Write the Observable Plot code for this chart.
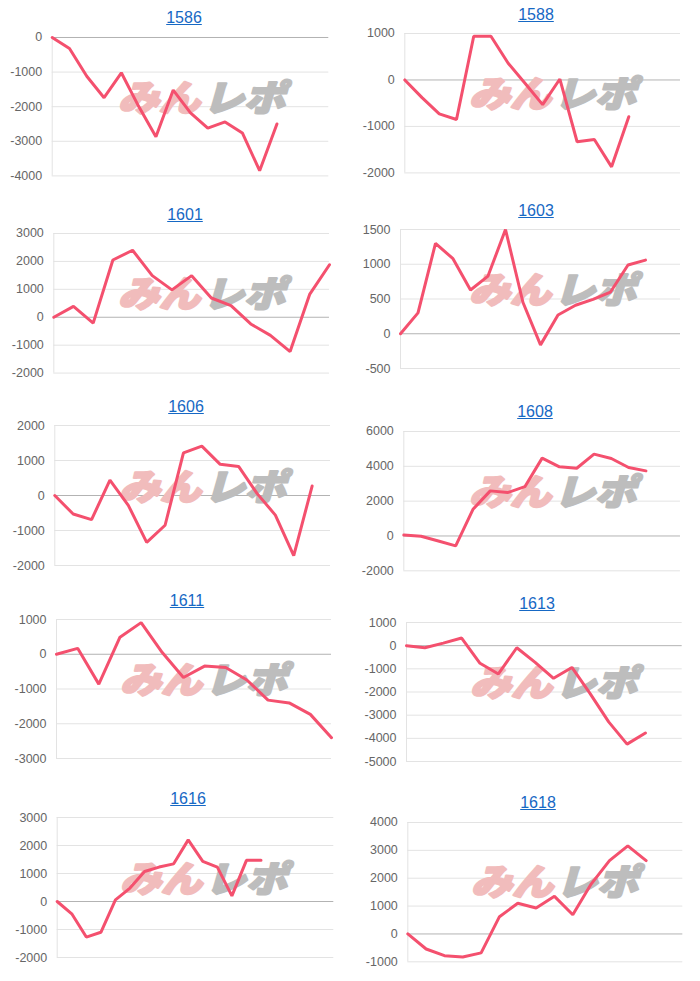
<!DOCTYPE html>
<html><head><meta charset="utf-8">
<script src="https://cdn.jsdelivr.net/npm/d3@7"></script>
<script src="https://cdn.jsdelivr.net/npm/@observablehq/plot@0.6"></script>
<style>
body{margin:0;background:#fff;}
#root{position:relative;width:700px;height:981px;overflow:hidden;}
.title{position:absolute;font:16px "Liberation Sans",Arial,sans-serif;line-height:16px;color:#1668c4;text-decoration:underline;transform:translateX(-50%);white-space:nowrap;}
.panel{position:absolute;}
</style></head><body><div id="root"></div>
<script>
// ---- data ----
const titles = ["1586","1588","1601","1603","1606","1608","1611","1613","1616","1618"];
const v1586 = [0, -320, -1120, -1740, -1020, -1990, -2870, -1520, -2180, -2620, -2440, -2760, -3850, -2500];
const v1588 = [0, -380, -730, -850, 940, 940, 360, -80, -530, 20, -1330, -1280, -1870, -790];
const v1601 = [0, 390, -210, 2050, 2400, 1490, 980, 1490, 690, 420, -240, -650, -1230, 830, 1880];
const v1603 = [0, 300, 1300, 1080, 630, 830, 1500, 450, -160, 270, 410, 495, 600, 990, 1060];
const v1606 = [0, -530, -690, 440, -280, -1340, -850, 1220, 1410, 890, 830, 60, -560, -1720, 270];
const v1608 = [50, -20, -290, -570, 1530, 2590, 2490, 2830, 4470, 3970, 3890, 4700, 4450, 3930, 3740];
const v1611 = [0, 170, -860, 490, 910, 50, -670, -340, -380, -740, -1320, -1400, -1730, -2400];
const v1613 = [0, -90, 110, 330, -760, -1220, -90, -720, -1410, -940, -2080, -3290, -4250, -3770];
const v1616 = [0, -440, -1270, -1100, 60, 480, 1070, 1230, 1345, 2200, 1430, 1230, 200, 1470, 1470];
const v1618 = [0, -540, -780, -830, -680, 620, 1100, 930, 1350, 690, 1790, 2630, 3160, 2630];
const series = [v1586, v1588, v1601, v1603, v1606, v1608, v1611, v1613, v1616, v1618];
const labelCounts = [17, 17, 15, 17, 16, 17, 14, 16, 20, 16];
const yMins  = [-4000, -2000, -2000, -500, -2000, -2000, -3000, -5000, -2000, -1000];
const yMaxs  = [0, 1000, 3000, 1500, 2000, 6000, 1000, 1000, 3000, 4000];
const ySteps = [1000, 1000, 1000, 500, 1000, 2000, 1000, 1000, 1000, 1000];
const watermarkA = "みん", watermarkB = "レポ";

// ---- layout (pixels) ----
const layout = [
 {col:0,   tx:184, tb:23,    top:37.3,  bottom:175.7, left:51.7,  right:328.3, wl:117, wt:82},
 {col:350, tx:536, tb:20.5,  top:33.3,  bottom:172.7, left:404.3, right:680,   wl:468, wt:78},
 {col:0,   tx:185, tb:220,   top:232.7, bottom:372.3, left:53.3,  right:329,   wl:117, wt:278},
 {col:350, tx:536, tb:216.7, top:229.3, bottom:368.3, left:400,   right:680,   wl:468, wt:274},
 {col:0,   tx:186, tb:412.7, top:425,   bottom:565,   left:54.3,  right:330,   wl:118, wt:471},
 {col:350, tx:535, tb:417.3, top:430.7, bottom:570,   left:403.3, right:680,   wl:468, wt:476},
 {col:0,   tx:187, tb:606.7, top:619.3, bottom:758.3, left:56,    right:331,   wl:119, wt:664},
 {col:350, tx:537, tb:609,   top:621.7, bottom:760.7, left:406,   right:681.7, wl:469, wt:667},
 {col:0,   tx:188, tb:804,   top:817.3, bottom:957.3, left:56.7,  right:333.3, wl:119, wt:863},
 {col:350, tx:538, tb:808.3, top:821.7, bottom:961,   left:407.3, right:682.3, wl:470, wt:866}
];

const root = document.getElementById("root");
const pad = 10;

series.forEach((vals, k) => {
  const L = layout[k];
  const n = labelCounts[k];
  const ticks = d3.range(yMins[k], yMaxs[k] + ySteps[k] / 2, ySteps[k]);
  const data = vals.map((v, i) => ({i, v}));
  const h = L.bottom - L.top + 2 * pad;

  const chart = Plot.plot({
    width: 350,
    height: h,
    marginTop: pad,
    marginBottom: pad,
    marginLeft: L.left - L.col,
    marginRight: L.col + 350 - L.right,
    style: {background: "transparent", fontSize: "12.5px", fontFamily: '"Liberation Sans", Arial, sans-serif', color: "#666", overflow: "visible"},
    x: {domain: [0, n - 1], axis: null},
    y: {domain: [yMins[k], yMaxs[k]], ticks, tickFormat: d => String(d), tickSize: 0, tickPadding: 10, label: null},
    marks: [
      Plot.ruleY(ticks.filter(t => t !== 0), {stroke: "#e3e3e3", strokeWidth: 1}),
      Plot.ruleX([0], {stroke: "#e3e3e3"}),
      Plot.ruleY([0], {stroke: "#b3b3b3"}),
      Plot.line(data, {x: "i", y: "v", stroke: "#f4506e", strokeWidth: 3, strokeLinejoin: "miter"})
    ]
  });

  // watermark behind the line
  const before = chart.querySelector('g[aria-label="line"]');
  const g = d3.create("svg:g").attr("font-family", '"Noto Sans CJK JP", sans-serif')
    .attr("font-weight", "900").attr("font-style", "italic").attr("font-size", 36)
    .attr("text-anchor", "start").attr("stroke-linejoin", "round");
  const bx = L.wl - L.col, by = L.wt - (L.top - pad) + 29;
  g.append("text").attr("x", bx + 1).attr("y", by).attr("fill", "#f1bcbc")
    .attr("stroke", "#f1bcbc").attr("stroke-width", 2.2)
    .attr("textLength", 82).attr("lengthAdjust", "spacingAndGlyphs").text(watermarkA);
  g.append("text").attr("x", bx + 86).attr("y", by).attr("fill", "#bdbdbd")
    .attr("stroke", "#bdbdbd").attr("stroke-width", 2.2)
    .attr("textLength", 82).attr("lengthAdjust", "spacingAndGlyphs").text(watermarkB);
  if (before) chart.insertBefore(g.node(), before); else chart.appendChild(g.node());

  const wrap = document.createElement("div");
  wrap.className = "panel";
  wrap.style.left = L.col + "px";
  wrap.style.top = (L.top - pad) + "px";
  wrap.appendChild(chart);
  root.appendChild(wrap);

  const t = document.createElement("a");
  t.className = "title";
  t.href = "#";
  t.textContent = titles[k];
  t.style.left = L.tx + "px";
  t.style.top = (L.tb - 13.5) + "px";
  root.appendChild(t);
});
</script></body></html>
